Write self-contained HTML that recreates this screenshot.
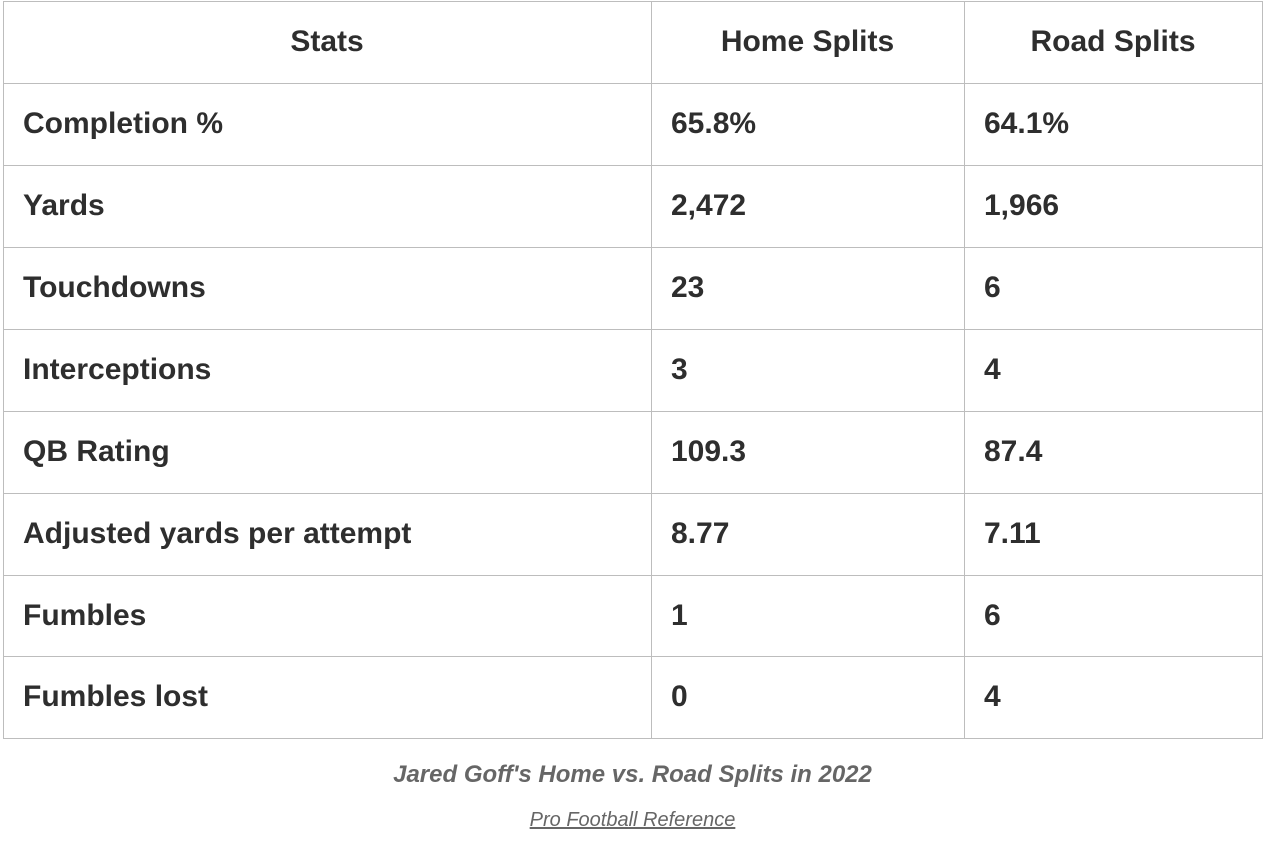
<!DOCTYPE html>
<html><head><meta charset="utf-8"><style>
html,body{margin:0;padding:0;background:#fff;width:1265px;height:846px;overflow:hidden;}
body{position:relative;font-family:"Liberation Sans",sans-serif;color:#2e2e2e;}
.h{position:absolute;left:3px;width:1260px;height:1px;background:#bdbdbd;}
.v{position:absolute;top:1px;height:738px;width:1px;background:#bdbdbd;}
.c{position:absolute;height:82px;line-height:82px;font-weight:bold;font-size:30px;white-space:nowrap;}
.c1{left:23px;}
.c2{left:671px;}
.c3{left:984px;}
.hd{text-align:center;}
.cap{position:absolute;left:0;width:1265px;text-align:center;}
</style></head><body>
<div class="h" style="top:1px"></div>
<div class="h" style="top:83px"></div>
<div class="h" style="top:165px"></div>
<div class="h" style="top:247px"></div>
<div class="h" style="top:329px"></div>
<div class="h" style="top:411px"></div>
<div class="h" style="top:493px"></div>
<div class="h" style="top:575px"></div>
<div class="h" style="top:656px"></div>
<div class="h" style="top:738px"></div>
<div class="v" style="left:3px"></div>
<div class="v" style="left:651px"></div>
<div class="v" style="left:964px"></div>
<div class="v" style="left:1262px"></div>

<div class="c hd" style="top:1px;left:3px;width:648px">Stats</div>
<div class="c hd" style="top:1px;left:651px;width:313px">Home Splits</div>
<div class="c hd" style="top:1px;left:964px;width:298px">Road Splits</div>

<div class="c c1" style="top:83px">Completion %</div><div class="c c2" style="top:83px">65.8%</div><div class="c c3" style="top:83px">64.1%</div>
<div class="c c1" style="top:165px">Yards</div><div class="c c2" style="top:165px">2,472</div><div class="c c3" style="top:165px">1,966</div>
<div class="c c1" style="top:247px">Touchdowns</div><div class="c c2" style="top:247px">23</div><div class="c c3" style="top:247px">6</div>
<div class="c c1" style="top:329px">Interceptions</div><div class="c c2" style="top:329px">3</div><div class="c c3" style="top:329px">4</div>
<div class="c c1" style="top:411px">QB Rating</div><div class="c c2" style="top:411px">109.3</div><div class="c c3" style="top:411px">87.4</div>
<div class="c c1" style="top:493px">Adjusted yards per attempt</div><div class="c c2" style="top:493px">8.77</div><div class="c c3" style="top:493px">7.11</div>
<div class="c c1" style="top:575px;height:81px;line-height:81px">Fumbles</div><div class="c c2" style="top:575px;height:81px;line-height:81px">1</div><div class="c c3" style="top:575px;height:81px;line-height:81px">6</div>
<div class="c c1" style="top:656px">Fumbles lost</div><div class="c c2" style="top:656px">0</div><div class="c c3" style="top:656px">4</div>

<div class="cap" style="top:760px;font-size:24px;line-height:30px;font-weight:bold;font-style:italic;color:#666;">Jared Goff's Home vs. Road Splits in 2022</div>
<div class="cap" style="top:807px;font-size:20px;line-height:26px;font-style:italic;color:#666;"><span style="text-decoration:underline;">Pro Football Reference</span></div>
</body></html>
